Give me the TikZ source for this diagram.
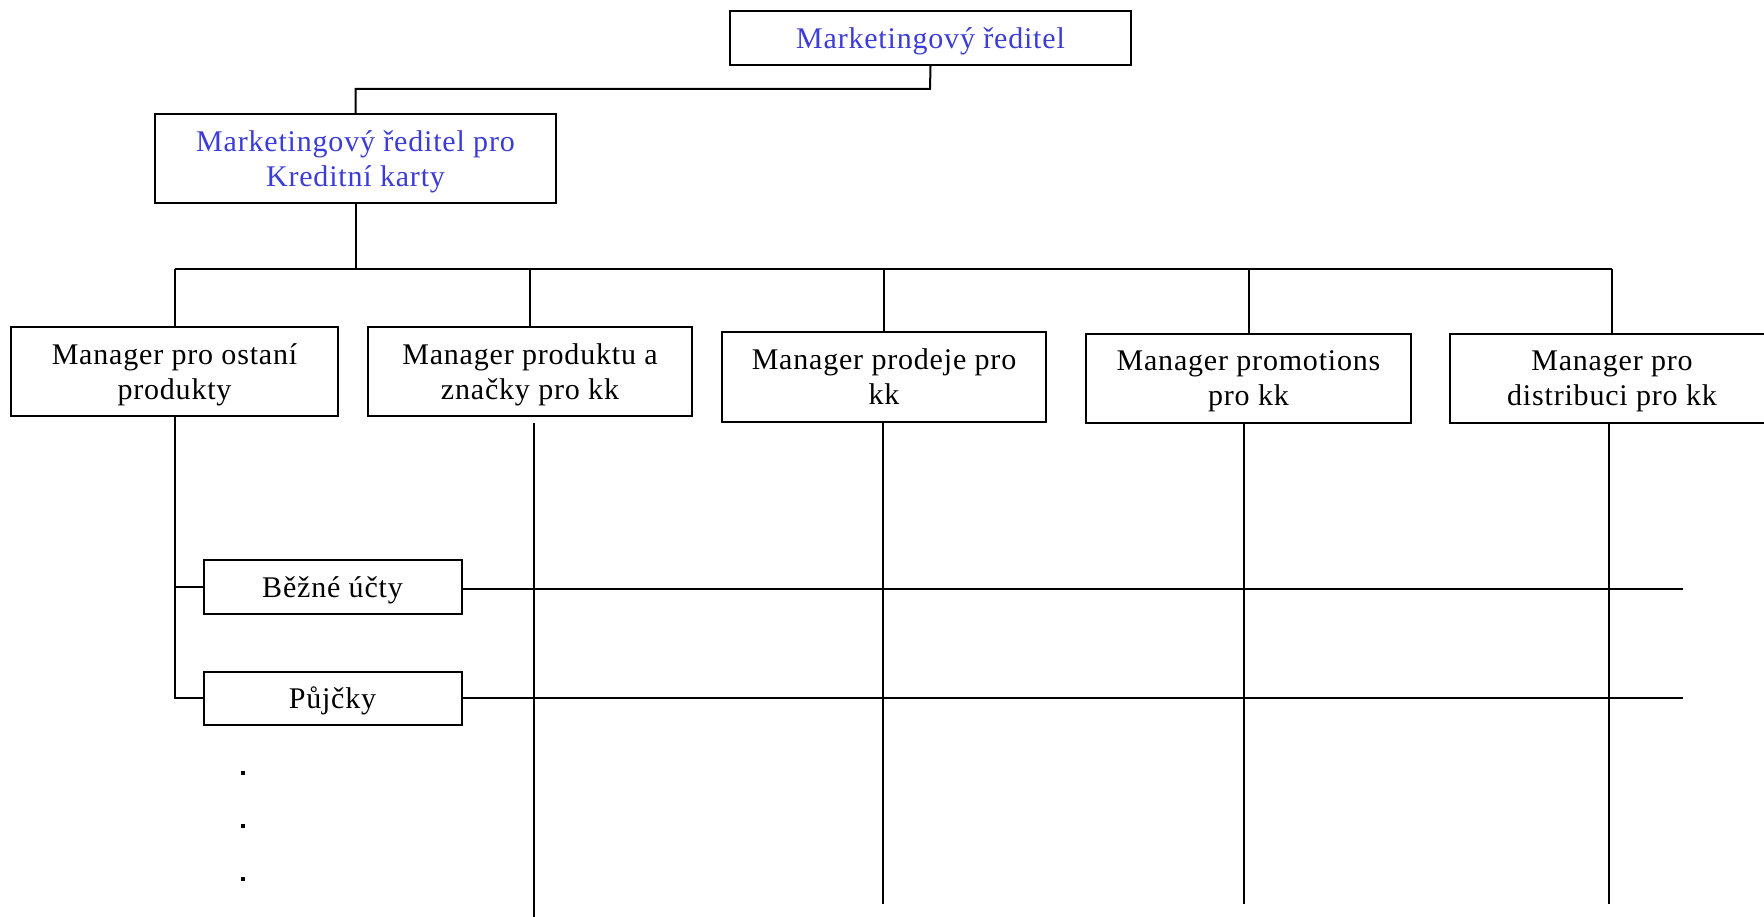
\documentclass[tikz,border=0pt]{standalone}
\usepackage{fontspec}
\setmainfont[LetterSpace=2.7]{Liberation Serif}
\definecolor{titleblue}{RGB}{60,60,215}
\begin{document}
\begin{tikzpicture}[x=1pt,y=-1pt,
  line width=2pt,
  box/.style={draw, line width=2pt, inner sep=0pt, align=center,
    font=\fontsize{30}{35}\selectfont, text depth=0pt, fill=white},
  conn/.style={draw, line width=2pt},
  dotmark/.style={fill=black, inner sep=0pt, minimum size=4pt}]
\useasboundingbox (0,0) rectangle (1764,917);
\clip (0,0) rectangle (1764,917);
\fill[white] (0,0) rectangle (1764,917);

% boxes
\node[box, minimum width=401pt, minimum height=54pt, text=titleblue] (top) at (930.5,38) {Marketingový ředitel};
\node[box, minimum width=401pt, minimum height=89pt, text=titleblue] (kk) at (355.5,158.5) {Marketingový ředitel pro\\Kreditní karty};
\node[box, minimum width=327pt, minimum height=89pt] (A) at (174.5,371.5) {Manager pro ostaní\\produkty};
\node[box, minimum width=324pt, minimum height=89pt] (B) at (530,371.5) {Manager produktu a\\značky pro kk};
\node[box, minimum width=324pt, minimum height=90pt] (C) at (884,377) {Manager prodeje pro\\kk};
\node[box, minimum width=325pt, minimum height=89pt] (D) at (1248.5,378.5) {Manager promotions\\pro kk};
\node[box, minimum width=324pt, minimum height=89pt] (E) at (1612,378.5) {Manager pro\\distribuci pro kk};
\node[box, minimum width=258pt, minimum height=54pt] (U) at (332.5,587) {Běžné účty};
\node[box, minimum width=258pt, minimum height=53pt] (P) at (332.5,698) {Půjčky};

% helper coordinates
\coordinate (j1) at (930,89);
\coordinate (bus) at (0,269);
\coordinate (Bt) at (534,423);
\coordinate (Bb) at (534,917);
\coordinate (Cb) at (883,904);
\coordinate (Db) at (1244,904);
\coordinate (Eb) at (1609,904);
\coordinate (Ue) at (1683,589);
\coordinate (Pe) at (1683,698);

% top connectors
\draw[conn] (top.south) -- (j1) -| (kk.north);
\draw[conn] (kk.south) -- (kk.south |- bus);
\draw[conn] (A.north |- bus) -- (E.north |- bus);
\foreach \n in {A,B,C,D,E} {\draw[conn] (\n.north |- bus) -- (\n.north);}

% lower connectors
\draw[conn] (A.south) |- (P.west);
\draw[conn] (A.south |- U.west) -- (U.west);
\draw[conn] (Bt) -- (Bb);
\draw[conn] (C.south -| Cb) -- (Cb);
\draw[conn] (D.south -| Db) -- (Db);
\draw[conn] (E.south -| Eb) -- (Eb);
\draw[conn] (U.east |- Ue) -- (Ue);
\draw[conn] (P.east) -- (Pe);

% dots
\node[dotmark] (d1) at (243,773) {};
\node[dotmark] (d2) at (243,826) {};
\node[dotmark] (d3) at (243,879) {};
\end{tikzpicture}
\end{document}
